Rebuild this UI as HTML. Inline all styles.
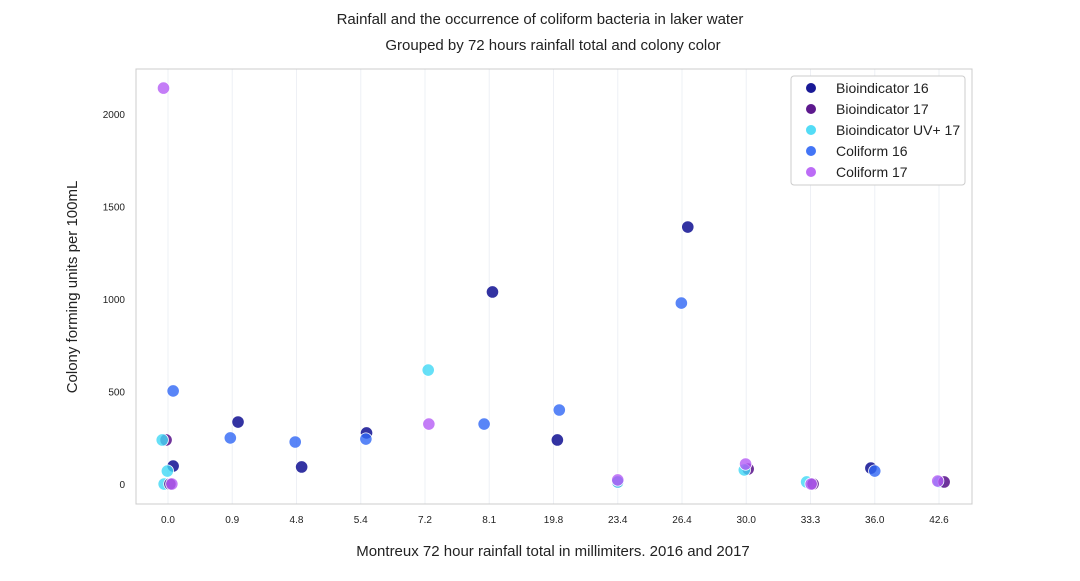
<!DOCTYPE html>
<html><head><meta charset="utf-8"><style>
body{margin:0;background:#fff;font-family:"Liberation Sans",Arial,sans-serif}
</style></head><body>
<svg id="chart" width="1080" height="576" xmlns="http://www.w3.org/2000/svg" font-family="Liberation Sans, Arial, sans-serif">
<text x="540" y="24" text-anchor="middle" font-size="15" fill="#222">Rainfall and the occurrence of coliform bacteria in laker water</text>
<text x="553" y="50" text-anchor="middle" font-size="15" fill="#222">Grouped by 72 hours rainfall total and colony color</text>
<g id="grid"></g>
<rect x="136" y="69" width="836" height="435" fill="none" stroke="#ccc" stroke-width="1"/>
<g id="ticks"></g>
<g id="marks"></g>
<text transform="translate(77,287) rotate(-90)" text-anchor="middle" font-size="15" fill="#222">Colony forming units per 100mL</text>
<text x="553" y="556" text-anchor="middle" font-size="15" fill="#222">Montreux 72 hour rainfall total in millimiters. 2016 and 2017</text>
<g id="legend"></g>
</svg>
<script>
const categories=["0.0","0.9","4.8","5.4","7.2","8.1","19.8","23.4","26.4","30.0","33.3","36.0","42.6"];
const yTicks=[0,500,1000,1500,2000];
const seriesNames=["Bioindicator 16","Bioindicator 17","Bioindicator UV+ 17","Coliform 16","Coliform 17"];
const seriesColors=["#00008b","#4b0082","#40d8f5","#2f66f5","#b55cf5"];
// [seriesIndex, categoryIndex, jitter, value]
const points=[
[4,0,-0.07,2140],[3,0,0.08,503],[1,0,-0.03,238],[2,0,-0.09,238],[0,0,0.08,97],[2,0,-0.01,70],
[2,0,-0.06,0],[1,0,0.03,0],[4,0,0.06,0],
[0,1,0.09,335],[3,1,-0.03,249],
[3,2,-0.02,227],[0,2,0.08,92],
[0,3,0.09,276],[3,3,0.08,243],
[2,4,0.05,616],[4,4,0.06,324],
[0,5,0.05,1038],[3,5,-0.08,324],
[3,6,0.09,400],[0,6,0.06,238],
[1,7,0.0,11],[2,7,0.0,11],[4,7,0.0,22],
[0,8,0.09,1389],[3,8,-0.01,978],
[1,9,0.03,81],[2,9,-0.03,76],[4,9,-0.01,108],
[2,10,-0.06,11],[1,10,0.04,0],[4,10,0.01,0],
[0,11,-0.06,86],[3,11,0.0,70],
[2,12,0.0,11],[1,12,0.08,11],[4,12,-0.02,16]
];
const NS="http://www.w3.org/2000/svg";
const x0=168,step=(939-168)/12;
const xs=(c)=>x0+c*step;
const ys=(v)=>484-v*0.185;
function mk(t,a,p){const e=document.createElementNS(NS,t);for(const k in a)e.setAttribute(k,a[k]);p.appendChild(e);return e;}
const grid=document.getElementById('grid'),ticks=document.getElementById('ticks'),marks=document.getElementById('marks'),leg=document.getElementById('legend');
categories.forEach((c,i)=>{
 const l=mk('line',{x1:xs(i),x2:xs(i),y1:69,y2:504,stroke:'#eef0f5','stroke-width':1},grid);
 
 
 const t=mk('text',{x:xs(i),y:523,'text-anchor':'middle','font-size':10,fill:'#222'},ticks);
 t.textContent=c;
 
 
});
yTicks.forEach(v=>{
 const t=mk('text',{x:125,y:ys(v)+4,'text-anchor':'end','font-size':10,fill:'#222'},ticks);
 t.textContent=v;
 
 
});
points.forEach(p=>{
 const c=mk('circle',{cx:xs(p[1]+p[2]),cy:ys(p[3]),r:6.2,fill:seriesColors[p[0]],'fill-opacity':0.8,stroke:'#fff','stroke-width':0.8},marks);
 
 
});
const lb=mk('rect',{x:791,y:76,width:174,height:109,fill:'#fff',stroke:'#ccc',rx:3},leg);


seriesNames.forEach((n,i)=>{
 const y=88+i*21;
 const c=mk('circle',{cx:811,cy:y,r:5,fill:seriesColors[i],'fill-opacity':0.9},leg);
 
 
 const t=mk('text',{x:836,y:y+5,'font-size':14,fill:'#222'},leg);
 t.textContent=n;
 
 
});
</script>
</body></html>
